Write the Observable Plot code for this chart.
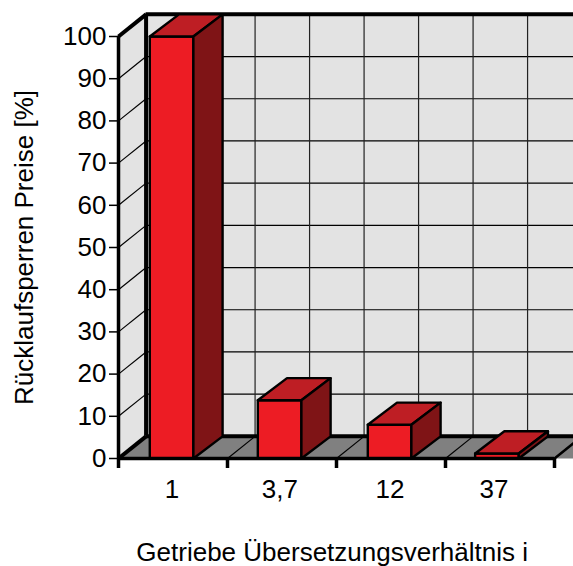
<!DOCTYPE html>
<html><head><meta charset="utf-8">
<script src="https://cdn.jsdelivr.net/npm/d3@7"></script>
<script src="https://cdn.jsdelivr.net/npm/@observablehq/plot@0.6"></script>
<style>html,body{margin:0;padding:0;background:#fff;overflow:hidden}</style>
</head><body><div id="chart"></div>
<script>
const categories = ["1", "3,7", "12", "37"];
const values = [100, 13.8, 8, 1.2];
const barCentres = [0.487, 1.478, 2.487, 3.472];
const labelCentres = [0.49, 1.48, 2.49, 3.445];
const yTicks = [0, 10, 20, 30, 40, 50, 60, 70, 80, 90, 100];
const xTicks = [0, 1, 2, 3, 4];
const xGrid = [0.5, 1, 1.5, 2, 2.5, 3, 3.5, 4];
const xTitle = "Getriebe Übersetzungsverhältnis i";
const wallDepthX = 0.253;  // depth of the walls, in category units
const barDepthX = 0.268;   // depth of the bars, in category units
const depthY = 5.25;       // depth of the 3D box, in percent units
const barHalf = 0.2;
const xEnd = 4.3;

const poly = (pts, fill, stroke = "#000", strokeWidth = 2.4) =>
  Plot.line(pts, {x: "0", y: "1", curve: "linear-closed", fill, stroke, strokeWidth, strokeLinejoin: "round"});
const back = ([x, y], dx = wallDepthX) => [x + dx, y + depthY];

const bars = categories.flatMap((c, i) => {
  const v = values[i], l = barCentres[i] - barHalf, r = barCentres[i] + barHalf;
  return [
    poly([[l, 0], [r, 0], [r, v], [l, v]], "#ed1c24"),
    poly([[l, v], [r, v], back([r, v], barDepthX), back([l, v], barDepthX)], "#be1e24"),
    poly([[r, 0], back([r, 0], barDepthX), back([r, v], barDepthX), [r, v]], "#7f1416")
  ];
});

const chart = Plot.plot({
  width: 573, height: 566,
  marginLeft: 118, marginRight: 19, marginTop: 36, marginBottom: 108,
  style: {fontFamily: "'Liberation Sans', Arial, sans-serif", background: "#fff", color: "#000"},
  x: {domain: [0, 4], range: [118, 554]},
  y: {domain: [0, 100], range: [458, 36]},
  marks: [
    // walls and floor
    poly([[0, 0], back([0, 0]), back([0, 100]), [0, 100]], "#e3e3e3", "none", 0),
    poly([back([0, 0]), back([xEnd, 0]), back([xEnd, 100]), back([0, 100])], "#e3e3e3", "none", 0),
    poly([[0, 0], back([0, 0]), back([xEnd, 0]), [xEnd, 0]], "#808080", "none", 0),
    // grid on walls
    Plot.ruleY(yTicks.slice(1), {y: d => d + depthY, x1: wallDepthX, x2: xEnd + wallDepthX, stroke: "#000", strokeWidth: 1.2}),
    Plot.ruleX(xGrid, {x: d => d + wallDepthX, y1: depthY, y2: 100 + depthY, stroke: "#222", strokeWidth: 1.2}),
    Plot.link(yTicks.slice(1), {x1: 0, y1: d => d, x2: wallDepthX, y2: d => d + depthY, stroke: "#000", strokeWidth: 1.2}),
    Plot.link(xTicks.slice(1), {x1: d => d, y1: 0, x2: d => d + wallDepthX, y2: depthY, stroke: "#000", strokeWidth: 1.2}),
    // heavy frame
    Plot.ruleX([wallDepthX], {y1: depthY, y2: 100 + depthY, stroke: "#000", strokeWidth: 4}),
    Plot.ruleY([100 + depthY], {x1: wallDepthX, x2: xEnd + wallDepthX, stroke: "#000", strokeWidth: 4}),
    Plot.ruleY([depthY], {x1: wallDepthX, x2: xEnd + wallDepthX, stroke: "#000", strokeWidth: 4}),
    Plot.link([[0, 100]], {x1: 0, y1: 100, x2: wallDepthX, y2: 100 + depthY, stroke: "#000", strokeWidth: 4}),
    Plot.link([[0, 0]], {x1: 0, y1: 0, x2: wallDepthX, y2: depthY, stroke: "#000", strokeWidth: 4}),
    Plot.link([[4, 0]], {x1: 4, y1: 0, x2: 4 + wallDepthX, y2: depthY, stroke: "#000", strokeWidth: 2.5}),
    // bars
    ...bars,
    // front axes
    Plot.ruleX([0], {y1: 0, y2: 100, stroke: "#000", strokeWidth: 3.5}),
    Plot.ruleY([0], {x1: 0, x2: 4, stroke: "#000", strokeWidth: 3.5}),
    Plot.axisY(yTicks, {
      tickSize: 9, tickPadding: 3, fontSize: 26, tickFormat: d => d, strokeWidth: 1.5,
      label: "Rücklaufsperren Preise [%]", labelAnchor: "center", labelArrow: "none", labelOffset: 104
    }),
    Plot.axisX(xTicks, {tickSize: 10, tickFormat: () => "", strokeWidth: 3.5, label: null}),
    Plot.axisX(labelCentres, {
      tickSize: 0, tickPadding: 21, fontSize: 26, tickFormat: d => categories[labelCentres.indexOf(d)], label: null
    }),
    Plot.text([xTitle], {x: () => 1.96, y: () => -22.4, text: d => d, fontSize: 26, fill: "#000"})
  ]
});
document.getElementById("chart").append(chart);
</script></body></html>
